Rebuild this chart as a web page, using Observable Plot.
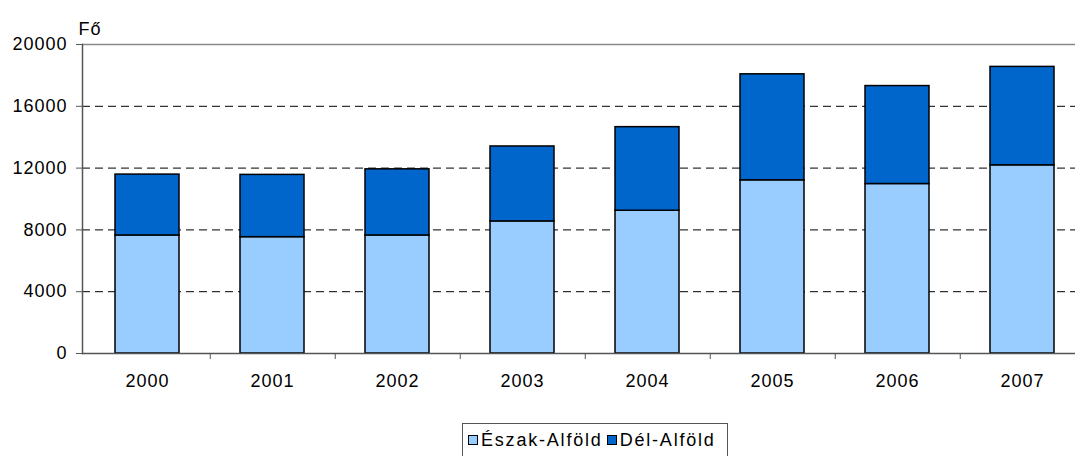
<!DOCTYPE html>
<html>
<head>
<meta charset="utf-8">
<script src="https://cdn.jsdelivr.net/npm/d3@7"></script>
<script src="https://cdn.jsdelivr.net/npm/@observablehq/plot@0.6"></script>
<style>
  html, body { margin: 0; padding: 0; background: white; overflow: hidden; }
  #wrap { position: relative; width: 1075px; height: 456px; overflow: hidden; }
  #legend {
    position: absolute; left: 462px; top: 423px; width: 266px; height: 34px;
    border: 1px solid #555; box-sizing: border-box; background: white;
    font-family: "Liberation Sans", Arial, sans-serif; font-size: 18px; letter-spacing: 1.8px;
    display: flex; align-items: center; padding-left: 5px; white-space: nowrap; color: #000;
  }
  .sw { display: inline-block; width: 8px; height: 8px; border: 1px solid #000; margin-right: 3px; }
</style>
</head>
<body>
<div id="wrap"><div id="chart"></div><div id="legend"></div></div>
<script>
const years = ["2000", "2001", "2002", "2003", "2004", "2005", "2006", "2007"];
const series = ["Észak-Alföld", "Dél-Alföld"];
const eszakAlfold = [7640, 7530, 7640, 8550, 9240, 11210, 10970, 12180];
const delAlfold = [3940, 4030, 4280, 4850, 5410, 6860, 6340, 6370];
const colors = ["#99CCFF", "#0066CC"];
const yTicks = [0, 4000, 8000, 12000, 16000, 20000];
const gridTicks = [4000, 8000, 12000, 16000];
const yLabel = "Fő";

const data = [];
years.forEach((y, i) => {
  data.push({year: y, series: series[0], value: eszakAlfold[i]});
  data.push({year: y, series: series[1], value: delAlfold[i]});
});

const chart = Plot.plot({
  width: 1086,
  height: 415,
  marginLeft: 82,
  marginRight: 0,
  marginTop: 44,
  marginBottom: 62,
  style: {fontFamily: "'Liberation Sans', Arial, sans-serif", fontSize: "18px", letterSpacing: "1px", color: "#000", maxWidth: "none", overflow: "visible", background: "white"},
  x: {domain: years, paddingInner: 0.49, paddingOuter: 0.245, label: null},
  y: {domain: [0, 20000], label: null},
  color: {domain: series, range: colors},
  marks: [
    Plot.ruleY(gridTicks, {stroke: "#000", strokeDasharray: "8,5", strokeWidth: 1}),
    Plot.ruleY([20000], {stroke: "#888", strokeWidth: 1.5}),
    Plot.barY(data, {x: "year", y: "value", fill: "series", stroke: "#000", strokeWidth: 1.5}),
    Plot.axisY({ticks: yTicks, tickSize: 6, tickPadding: 9, tickFormat: d3.format("d"), stroke: "#555", label: null}),
    Plot.axisX({tickSize: 0, tickPadding: 21, label: null}),
    Plot.axisX({tickSize: 6, dx: 62.75, text: null, stroke: "#555", label: null}),
    Plot.ruleY([0], {stroke: "#555", strokeWidth: 1.5}),
    Plot.frame({anchor: "left", stroke: "#555", strokeWidth: 1.5}),
    Plot.text([yLabel], {text: d => d, frameAnchor: "top-left", textAnchor: "start", lineAnchor: "bottom", dx: -4, dy: -10, fill: "#000"})
  ]
});
document.getElementById("chart").appendChild(chart);

const legend = document.getElementById("legend");
series.forEach((s, i) => {
  const sw = document.createElement("span");
  sw.className = "sw";
  sw.style.background = colors[i];
  if (i > 0) sw.style.marginLeft = "4px";
  legend.appendChild(sw);
  const t = document.createElement("span");
  t.textContent = s;
  legend.appendChild(t);
});
</script>
</body>
</html>
